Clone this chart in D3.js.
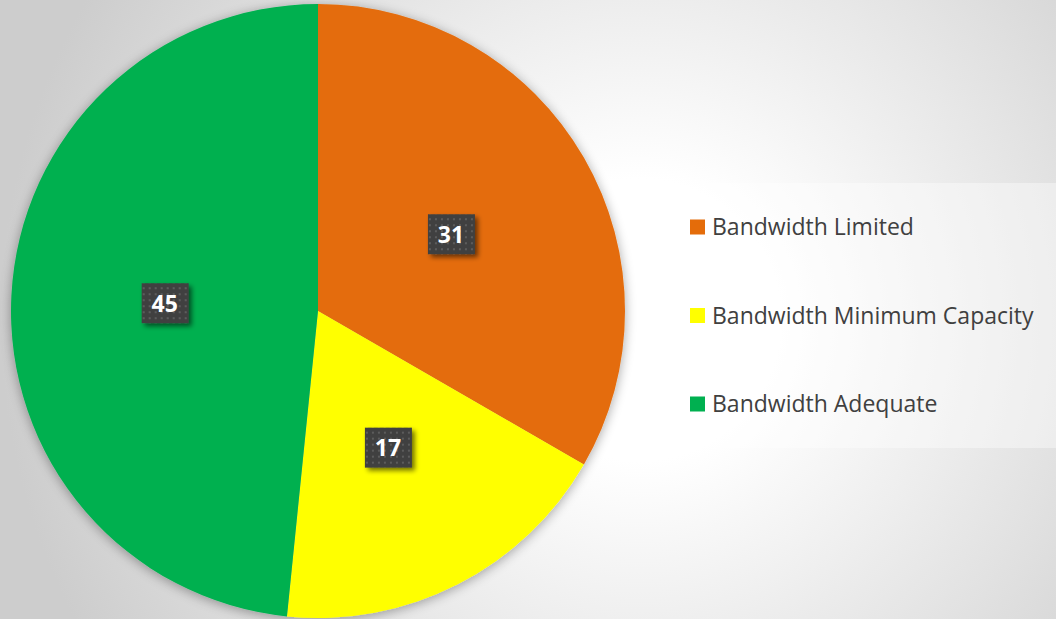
<!DOCTYPE html>
<html>
<head>
<meta charset="utf-8">
<script src="https://cdn.jsdelivr.net/npm/d3@7"></script>
<style>
html,body{margin:0;padding:0;background:#fff;}
svg{display:block;}
</style>
</head>
<body>
<script>
const categories = ["Bandwidth Limited", "Bandwidth Minimum Capacity", "Bandwidth Adequate"];
const values = [31, 17, 45];
const colors = ["#E46C0A", "#FFFF00", "#00B050"];

const W = 1056, H = 619;
const svg = d3.select("body").append("svg").attr("width", W).attr("height", H);
const defs = svg.append("defs");

const bg = defs.append("radialGradient").attr("id", "bg")
  .attr("gradientUnits", "userSpaceOnUse")
  .attr("cx", 640).attr("cy", 320).attr("r", 640);
bg.append("stop").attr("offset", "0%").attr("stop-color", "#ffffff");
bg.append("stop").attr("offset", "22%").attr("stop-color", "#ffffff");
bg.append("stop").attr("offset", "100%").attr("stop-color", "#cdcdcd");
svg.append("rect").attr("width", W).attr("height", H).attr("fill", "url(#bg)");

const sh = defs.append("filter").attr("id", "pieShadow").attr("x", "-10%").attr("y", "-10%").attr("width", "120%").attr("height", "120%");
sh.append("feGaussianBlur").attr("in", "SourceAlpha").attr("stdDeviation", 6).attr("result", "b");
sh.append("feOffset").attr("in", "b").attr("dx", 0).attr("dy", 2).attr("result", "o");
sh.append("feComponentTransfer").attr("in", "o").attr("result", "s")
  .append("feFuncA").attr("type", "linear").attr("slope", 0.35);
const m = sh.append("feMerge");
m.append("feMergeNode").attr("in", "s");
m.append("feMergeNode").attr("in", "SourceGraphic");

const ls = defs.append("filter").attr("id", "lblShadow").attr("x", "-30%").attr("y", "-30%").attr("width", "170%").attr("height", "170%");
ls.append("feGaussianBlur").attr("in", "SourceAlpha").attr("stdDeviation", 2.5).attr("result", "b");
ls.append("feOffset").attr("in", "b").attr("dx", 3).attr("dy", 3).attr("result", "o");
ls.append("feComponentTransfer").attr("in", "o").attr("result", "s")
  .append("feFuncA").attr("type", "linear").attr("slope", 0.55);
const m2 = ls.append("feMerge");
m2.append("feMergeNode").attr("in", "s");
m2.append("feMergeNode").attr("in", "SourceGraphic");

const pat = defs.append("pattern").attr("id", "dots").attr("patternUnits", "userSpaceOnUse")
  .attr("width", 6).attr("height", 6);
pat.append("rect").attr("width", 6).attr("height", 6).attr("fill", "#404040");
pat.append("rect").attr("x", 2).attr("y", 2).attr("width", 2).attr("height", 2).attr("fill", "#5c5c5c");

const cx = 318, cy = 311, R = 307;
const pie = d3.pie().sort(null).value(d => d)(values);
const arc = d3.arc().innerRadius(0).outerRadius(R);

const g = svg.append("g").attr("transform", `translate(${cx},${cy})`);
g.append("g").attr("filter", "url(#pieShadow)")
  .selectAll("path").data(pie).join("path")
  .attr("d", arc).attr("fill", (d, i) => colors[i]);

const lbl = g.selectAll("g.lbl").data(pie).join("g").attr("class", "lbl")
  .attr("transform", d => `translate(${arc.centroid(d)})`);
lbl.append("rect").attr("x", -23).attr("y", -20).attr("width", 47).attr("height", 40)
  .attr("fill", "url(#dots)").attr("filter", "url(#lblShadow)");
lbl.append("text").attr("text-anchor", "middle").attr("dy", "0.36em")
  .attr("font-family", "'Open Sans', sans-serif").attr("font-weight", "bold")
  .attr("font-size", 23).attr("fill", "#ffffff")
  .text(d => d.data);

// legend
svg.append("rect").attr("x", 668).attr("y", 183).attr("width", 388).attr("height", 265)
  .attr("fill", "#ffffff").attr("fill-opacity", 0.4);
const ly = d3.scalePoint().domain(categories).range([227, 404]);
const leg = svg.selectAll("g.leg").data(categories).join("g").attr("class", "leg")
  .attr("transform", d => `translate(690,${ly(d)})`);
leg.append("rect").attr("x", 0).attr("y", -7.5).attr("width", 15).attr("height", 15)
  .attr("fill", (d, i) => colors[i]);
leg.append("text").attr("x", 22).attr("dy", "0.36em")
  .attr("font-family", "'Open Sans', sans-serif").attr("font-size", 23)
  .attr("fill", "#404040").text(d => d);
</script>
</body>
</html>
